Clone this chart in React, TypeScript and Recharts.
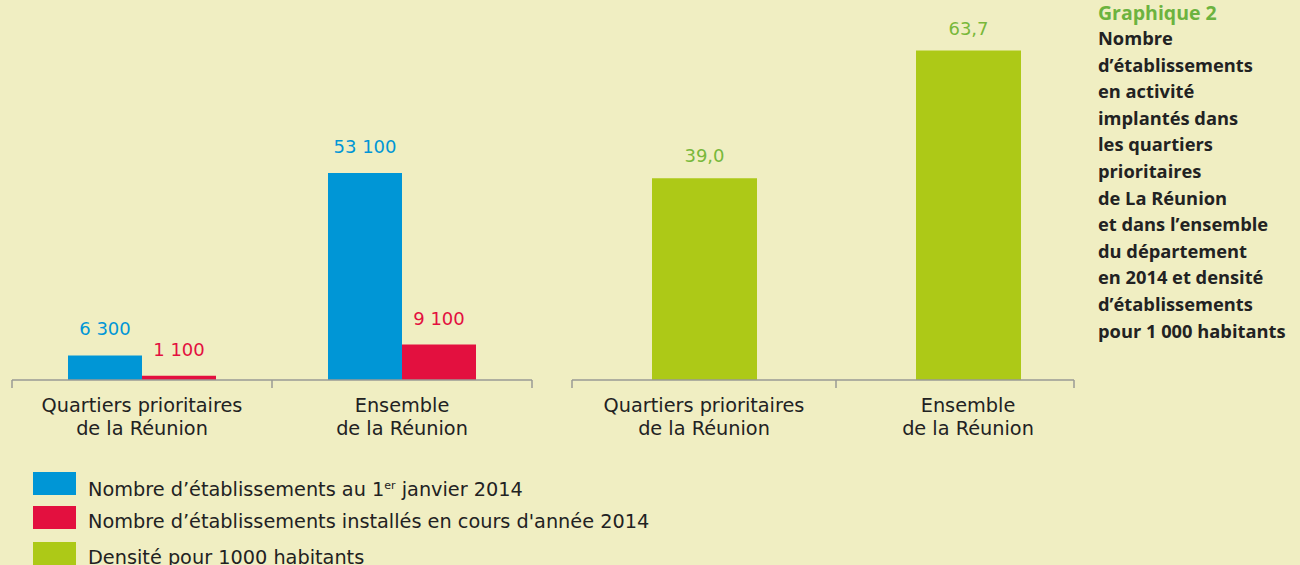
import { BarChart, Bar, XAxis, YAxis, LabelList } from "recharts";

const categories = ["Quartiers prioritaires\nde la Réunion", "Ensemble\nde la Réunion"];
const stockValues = [6300, 53100];
const createdValues = [1100, 9100];
const densityValues = [39.0, 63.7];

const titleHead = "Graphique 2";
const titleLines = [
  "Nombre",
  "d’établissements",
  "en activité",
  "implantés dans",
  "les quartiers",
  "prioritaires",
  "de La Réunion",
  "et dans l’ensemble",
  "du département",
  "en 2014 et densité",
  "d’établissements",
  "pour 1 000 habitants",
];

const BLUE = "#0096d6";
const RED = "#e3103f";
const GREEN = "#adc917";
const GREEN_TEXT = "#78b83a";
const TEXT = "#222222";
const AXIS = "#9a9a94";
const BG = "#f0eec2";
const FONT = "'DejaVu Sans', sans-serif";
const LABEL_SIZE = 19.3;

const legendItems = [
  { color: BLUE, label: <>Nombre d’établissements au 1<sup style={{ fontSize: 11 }}>er</sup> janvier 2014</> },
  { color: RED, label: <>Nombre d’établissements installés en cours d'année 2014</> },
  { color: GREEN, label: <>Densité pour 1000 habitants</> },
];

const leftData = categories.map((name, i) => ({ name, stock: stockValues[i], created: createdValues[i] }));
const rightData = categories.map((name, i) => ({ name, density: densityValues[i] }));

const fmtCount = (v: number) => String(v).replace(/\B(?=(\d{3})+(?!\d))/g, " ");
const fmtDensity = (v: number) => v.toFixed(1).replace(".", ",");

// category ticks: boundary tick marks + two-line label
const makeTick = (band: number, count: number, rightEdge?: number) => (props: any) => {
  const { x, y, payload, index } = props;
  const lines = String(payload.value).split("\n");
  const left = x - band / 2;
  const right = rightEdge ?? x + band / 2;
  return (
    <g>
      <line x1={left} y1={y} x2={left} y2={y + 8} stroke={AXIS} strokeWidth={1.5} />
      {index === count - 1 && <line x1={right} y1={y} x2={right} y2={y + 8} stroke={AXIS} strokeWidth={1.5} />}
      <text x={x} y={y} textAnchor="middle" fill={TEXT} fontSize={LABEL_SIZE} fontFamily={FONT}>
        {lines.map((l, i) => (
          <tspan key={i} x={x} dy={i === 0 ? 32 : 23}>
            {l}
          </tspan>
        ))}
      </text>
    </g>
  );
};

const App = () => {
  return (
    <div style={{ position: "absolute", left: 0, top: 0, width: 1300, height: 565, background: BG, overflow: "hidden", fontFamily: FONT }}>
      <div style={{ position: "absolute", left: 0, top: 0 }}>
        <BarChart width={545} height={440} data={leftData} margin={{ top: 68, right: 13, bottom: 0, left: 12 }} barGap={0}>
          <XAxis
            dataKey="name"
            height={60}
            interval={0}
            tickLine={false}
            tickSize={0}
            tickMargin={0}
            stroke={AXIS}
            strokeWidth={1.5}
            tick={makeTick(260, categories.length)}
          />
          <YAxis hide domain={[0, 80000]} />
          <Bar dataKey="stock" fill={BLUE} barSize={74} isAnimationActive={false}>
            <LabelList dataKey="stock" position="top" offset={20} fill={BLUE} fontSize={18} fontFamily={FONT} formatter={(v: any) => fmtCount(Number(v))} />
          </Bar>
          <Bar dataKey="created" fill={RED} barSize={74} isAnimationActive={false}>
            <LabelList dataKey="created" position="top" offset={20} fill={RED} fontSize={18} fontFamily={FONT} formatter={(v: any) => fmtCount(Number(v))} />
          </Bar>
        </BarChart>
      </div>

      <div style={{ position: "absolute", left: 560, top: 0 }}>
        <BarChart width={540} height={440} data={rightData} margin={{ top: 18, right: 26, bottom: 0, left: 12 }}>
          <XAxis
            dataKey="name"
            height={60}
            interval={0}
            padding={{ left: 0, right: -26 }}
            tickLine={false}
            tickSize={0}
            tickMargin={0}
            stroke={AXIS}
            strokeWidth={1.5}
            tick={makeTick(264, categories.length, 514)}
          />
          <YAxis hide domain={[0, 70]} />
          <Bar dataKey="density" fill={GREEN} barSize={105} isAnimationActive={false}>
            <LabelList dataKey="density" position="top" offset={16} fill={GREEN_TEXT} fontSize={18} fontFamily={FONT} formatter={(v: any) => fmtDensity(Number(v))} />
          </Bar>
        </BarChart>
      </div>

      {legendItems.map((item, i) => (
        <div key={i} style={{ position: "absolute", left: 33, top: [472, 506, 542][i], height: 23, display: "flex", alignItems: "center" }}>
          <div style={{ width: 43, height: 23, background: item.color }} />
          <span style={{ marginLeft: 12, fontSize: LABEL_SIZE, color: TEXT, whiteSpace: "nowrap", lineHeight: "23px", position: "relative", top: 4 }}>{item.label}</span>
        </div>
      ))}

      <div style={{ position: "absolute", left: 1098, top: 1, fontFamily: "'Open Sans', sans-serif", fontWeight: 700, fontSize: 18.3, lineHeight: "26.6px", color: TEXT, whiteSpace: "nowrap" }}>
        <div style={{ color: "#6cb33f", fontSize: 19.5, lineHeight: "24px" }}>{titleHead}</div>
        {titleLines.map((l, i) => (
          <div key={i}>{l}</div>
        ))}
      </div>
    </div>
  );
};

export default App;
